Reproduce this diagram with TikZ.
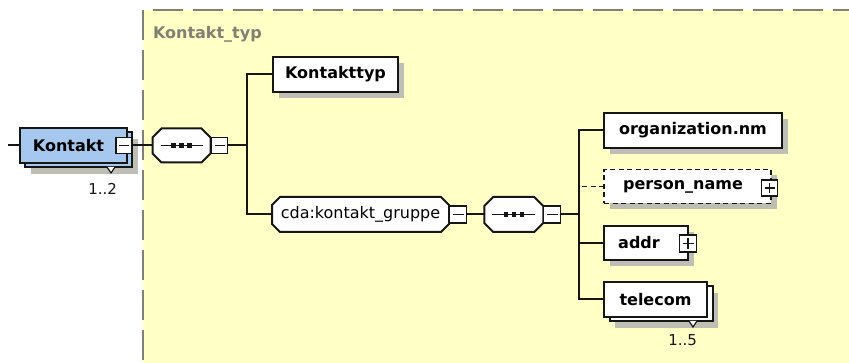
\documentclass[tikz,border=0pt]{standalone}
\usepackage{fontspec}
\setmainfont{DejaVu Sans}
\usetikzlibrary{shadows}
\definecolor{bgyellow}{RGB}{255,255,198}
\definecolor{kblue}{RGB}{166,200,238}
\definecolor{shgray}{RGB}{190,190,180}
\definecolor{bordergray}{RGB}{128,128,116}
\definecolor{ink}{RGB}{22,22,22}
\pgfdeclarelayer{bg}
\pgfsetlayers{bg,main}
\newcommand{\chamferpath}[2]{([xshift=#2]#1.north west) -- ([xshift=-#2]#1.north east) -- ([yshift=-#2]#1.north east) -- ([yshift=#2]#1.south east) -- ([xshift=-#2]#1.south east) -- ([xshift=#2]#1.south west) -- ([yshift=#2]#1.south west) -- ([yshift=-#2]#1.north west) -- cycle}
\begin{document}
\begin{tikzpicture}[x=1pt,y=-1pt,
  every node/.style={inner sep=0pt, outer sep=0pt},
  boldtxt/.style={font=\fontsize{16}{18}\selectfont\bfseries},
  plaintxt/.style={font=\fontsize{16}{18}\selectfont},
  multtxt/.style={font=\fontsize{15}{17}\selectfont, text=ink},
  line/.style={draw=ink, line width=2pt},
  shadowsingle/.style={drop shadow={shadow xshift=6pt, shadow yshift=-6pt, fill=shgray, opacity=1, shadow scale=1}},
  shadowmulti/.style={drop shadow={shadow xshift=11pt, shadow yshift=-11pt, fill=shgray, opacity=1, shadow scale=1}},
  elem/.style={rectangle, draw=ink, line width=2pt, fill=white, minimum height=35pt, boldtxt},
  optelem/.style={elem, dash pattern=on 5pt off 3.5pt, line width=1.7pt},
  chamfnode/.style={rectangle, minimum height=35pt},
  chamfdraw/.style={draw=ink, line width=2pt, fill=white, line join=miter},
  chamfshadow/.style={fill=shgray},
  seqicon/.style={ink, line width=1.6pt},
  minusbox/.style={rectangle, draw=ink, fill=white, line width=1.6pt, minimum size=16pt,
    path picture={\draw[ink, line width=1.6pt] ([xshift=3pt]path picture bounding box.west) -- ([xshift=-3pt]path picture bounding box.east);}},
  plusbox/.style={minusbox,
    path picture={\draw[ink, line width=1.5pt] ([xshift=3pt]path picture bounding box.west) -- ([xshift=-3pt]path picture bounding box.east)
      ([yshift=3pt]path picture bounding box.south) -- ([yshift=-3pt]path picture bounding box.north);}},
  notch/.style={draw=ink, fill=white, line width=1.2pt, line join=miter}
]
\useasboundingbox (0,0) rectangle (849,363);
\clip (0,0) rectangle (849,363);
\begin{pgfonlayer}{bg}
\fill[white] (0,0) rectangle (849,363);
\fill[bgyellow] (143,10) rectangle (880,400);
\draw[bordergray, line width=1.6pt, dash pattern=on 30pt off 10pt] (143,400) -- (143,10) -- (880,10);
\end{pgfonlayer}
\node[anchor=west, boldtxt, text=bordergray] (ctype) at (153,34) {Kontakt\_typ};

% root element
\coordinate (start) at (8,145.5);
\node[elem, fill=kblue, minimum width=107pt, minimum height=35pt,
  shadowmulti, copy shadow={shadow xshift=5pt, shadow yshift=-4pt, fill=kblue, draw=ink, line width=2pt}]
  (kontakt) at (73.5,145.5) {Kontakt\hspace*{10pt}};
\node[minusbox] (kminus) at (124,145.5) {};
\draw[notch] ([shift={(-20,4)}]kontakt.south east) -- ++(4,6) -- ++(4,-6);
\node[multtxt, anchor=east] (m12) at (117,189) {1..2};

% first sequence
\node[chamfnode, minimum width=58pt, minimum height=34pt] (seq1) at (181.5,145.5) {};
\node[minusbox] (seq1m) at (219.5,145.5) {};
\coordinate (j1) at (247,145.5);

\node[elem, minimum width=125pt, shadowsingle] (ktyp) at (335.5,74.5) {Kontakttyp};
\node[chamfnode, plaintxt, minimum width=177pt] (cda) at (360.5,214.5) {cda:kontakt\_gruppe};
\node[minusbox, minimum size=17pt] (cdam) at (458,214.5) {};

% second sequence
\node[chamfnode, minimum width=59pt] (seq2) at (513.8,214.5) {};
\node[minusbox, minimum size=17pt] (seq2m) at (552,214.5) {};
\coordinate (j2) at (579,214.5);

% chamfered shapes (model groups) drawn behind their nodes
\begin{pgfonlayer}{bg}
\foreach \n/\c in {seq1/9pt, cda/8pt, seq2/9pt}{
  \fill[chamfshadow, shift={(6,6)}] \chamferpath{\n}{\c};
  \draw[chamfdraw] \chamferpath{\n}{\c};
}
\end{pgfonlayer}
\foreach \n in {seq1, seq2}{
  \draw[seqicon] ([xshift=8pt]\n.west) -- ([xshift=-8pt]\n.east);
  \foreach \dx in {-8,0,8}{\fill[ink] ([xshift=\dx pt]\n.center) +(-2.3,-2.3) rectangle +(2.3,2.3);}
}

% children
\node[elem, minimum width=178pt, shadowsingle] (org) at (693,130.5) {organization.nm};
\node[optelem, minimum width=167pt, minimum height=34pt, shadowsingle] (person) at (687.5,186.5) {person\_name\hspace*{9pt}};
\node[plusbox] (personp) at (769.5,188) {};
\node[elem, minimum width=84pt, minimum height=34pt, shadowsingle] (addr) at (646,243) {addr\hspace*{14pt}};
\node[plusbox, minimum size=17pt] (addrp) at (688,243.5) {};
\node[elem, minimum width=103pt, shadowmulti,
  copy shadow={shadow xshift=6pt, shadow yshift=-4pt, fill=white, draw=ink, line width=2pt}]
  (telecom) at (655.5,299.5) {telecom};
\draw[notch] ([shift={(-18,4)}]telecom.south east) -- ++(4,6) -- ++(4,-6);
\node[multtxt, anchor=east] (m15) at (697,340) {1..5};

% connectors
\draw[line] (start) -- (kontakt.west);
\draw[line] (kminus.east) -- (seq1.west);
\draw[line] (seq1m.east) -- (j1);
\draw[line] (ktyp.west) -| (j1) |- (cda.west);
\draw[line] (cdam.east) -- (seq2.west);
\draw[line] (seq2m.east) -- (j2);
\draw[line] (org.west) -| (j2) |- (telecom.west);
\draw[line] (addr.west) -- (addr.west -| j2);
\draw[line, dash pattern=on 5pt off 3.5pt, line width=1.7pt] (person.west) -- (person.west -| j2);
\end{tikzpicture}
\end{document}
